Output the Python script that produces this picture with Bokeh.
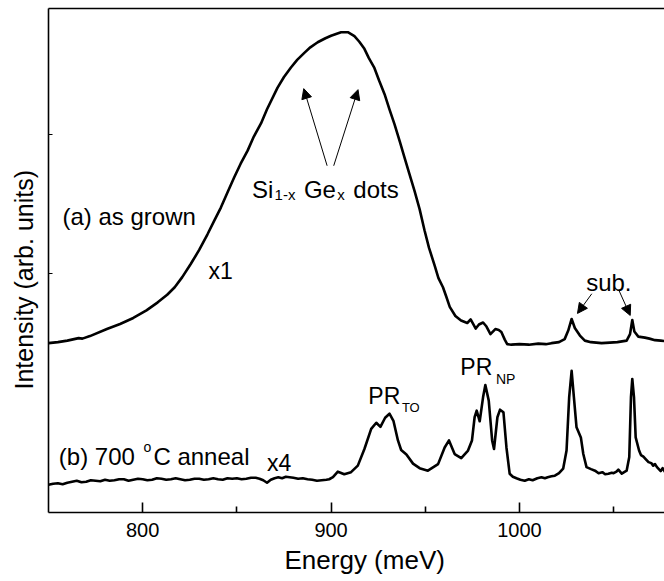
from bokeh.plotting import figure
from bokeh.models import Range1d, FixedTicker, LinearAxis, Arrow, NormalHead, Title
from bokeh.core.properties import value
from bokeh.embed import file_html
from bokeh.resources import INLINE

# PL spectrum (a): as-grown sample, x1
energy_a = [750, 755, 760, 766, 768, 772, 781, 788, 795, 802, 808, 813, 817, 821,
            825.5, 830, 834.4, 838, 841.5, 845, 848.6, 852, 855.7, 859, 862.8, 866,
            871.6, 875, 878.7, 882, 885.8, 889, 892.9, 897, 900, 903, 905.3, 908.9,
            912.4, 915, 917.7, 920, 923, 925.5, 928.4, 931, 933.7, 936.5, 939, 941.5,
            944.3, 947, 949.6, 952, 955, 957, 959.4, 961, 963, 966, 969, 972.3, 974.1,
            976.8, 978.5, 980.7, 982.5, 984.6, 987.2, 989, 990.4, 992.2, 993.5, 995.7,
            1000, 1005, 1010, 1014, 1017, 1021, 1024, 1025.9, 1027.7, 1029.4, 1032.1,
            1034.7, 1038, 1043.6, 1048, 1052, 1056.9, 1058.7, 1059.9, 1061, 1063.1,
            1066.6, 1069, 1072, 1075, 1077.3]
intensity_a = [33.6, 33.8, 34.1, 34.6, 34.5, 35.0, 36.4, 37.4, 38.6, 40.1, 41.7, 43.2,
               44.7, 46.7, 49.3, 52.1, 55.2, 57.9, 60.5, 63.5, 66.5, 69.2, 71.8, 74.6,
               77.2, 80.0, 84.3, 86.4, 88.3, 89.8, 91.2, 92.3, 93.3, 94.1, 94.6, 95.0,
               95.3, 95.3, 94.5, 93.4, 92.0, 90.2, 88.2, 85.7, 83.0, 80.0, 77.0, 73.6,
               70.4, 67.3, 63.8, 60.2, 56.0, 52.5, 49.0, 46.5, 44.7, 43.0, 40.8, 39.0,
               38.1, 37.6, 38.3, 36.5, 37.3, 37.7, 36.9, 35.4, 36.4, 36.2, 35.8, 34.3,
               33.4, 33.3, 33.4, 33.3, 33.5, 33.4, 33.6, 33.8, 34.4, 36.1, 38.4, 36.6,
               35.1, 34.1, 33.8, 33.6, 33.7, 33.8, 34.1, 35.4, 38.2, 35.9, 34.9, 34.7,
               34.5, 34.2, 34.1, 34.0]

# PL spectrum (b): after 700 C anneal, x4
energy_b = [750, 752.5, 755, 757.5, 760, 762.5, 765, 767.5, 770, 772.5, 775, 777.5,
            780, 782.5, 785, 787.5, 790, 792.5, 795, 797.5, 800, 802.5, 805, 807.5,
            810, 812.5, 815, 817.5, 820, 822.5, 825, 827.5, 830, 832.5, 835, 837.5,
            840, 842.5, 845, 847.5, 850, 852.5, 855, 857.5, 860, 862, 864, 866, 868,
            870, 872, 874, 876, 878, 880, 882.5, 885, 887.5, 890, 892.5, 895, 897.5,
            899, 901, 903.6, 905, 907, 910.6, 914.2, 917.7, 921.3, 924, 926.2, 928.7,
            931, 933.1, 935.5, 937.2, 940, 943.5, 947, 951.4, 956.8, 960.3, 962.6,
            965.6, 969.1, 972.7, 974.8, 976.2, 977.3, 978.9, 980.7, 981.9, 983.7,
            985.5, 986.5, 988.3, 989.7, 991.5, 993.1, 994.8, 996.5, 998.4, 1000.5,
            1002.8, 1005, 1007, 1009.5, 1011.7, 1013.5, 1015, 1017, 1018.8, 1021,
            1023.2, 1025, 1026.4, 1027.7, 1028.9, 1030.3, 1032.6, 1033.9, 1035.6,
            1038, 1040.1, 1042, 1044, 1045.5, 1047.2, 1049, 1050, 1051.5, 1052.5,
            1054.3, 1056.9, 1058.3, 1059.2, 1059.9, 1060.8, 1061.7, 1063.5, 1064.5,
            1065.8, 1067, 1068.5, 1070, 1071, 1072, 1073, 1074, 1075, 1076, 1077.3]
intensity_b = [5.5, 5.7, 5.8, 5.6, 5.9, 6.1, 6.3, 6.0, 6.1, 6.4, 6.3, 6.2, 6.5, 6.3,
               6.4, 6.6, 6.6, 6.3, 6.5, 6.7, 6.6, 6.4, 6.5, 6.8, 6.7, 6.5, 6.6, 6.8,
               6.6, 6.4, 6.5, 6.7, 6.7, 6.5, 6.6, 6.8, 6.6, 6.5, 6.8, 6.7, 6.8, 6.6,
               6.7, 6.9, 6.9, 6.7, 6.4, 5.9, 6.5, 6.8, 7.0, 6.8, 7.1, 7.0, 6.9, 6.7,
               6.8, 6.6, 6.5, 6.3, 6.4, 6.5, 6.6, 7.0, 8.1, 7.9, 7.6, 8.0, 9.3, 12.6,
               16.6, 17.8, 17.0, 18.8, 19.6, 18.2, 14.3, 12.4, 11.5, 9.7, 8.8, 8.3,
               9.6, 12.9, 14.3, 11.6, 10.8, 12.3, 14.3, 18.9, 20.2, 18.1, 22.9, 25.3,
               22.2, 14.3, 12.6, 18.9, 20.4, 19.9, 12.9, 7.7, 7.1, 6.8, 6.5, 6.3, 6.6,
               6.4, 6.8, 7.0, 6.8, 7.0, 7.2, 7.3, 7.8, 8.7, 12.3, 22.9, 28.1, 22.9,
               16.9, 14.9, 11.6, 9.0, 8.6, 8.3, 7.8, 8.0, 7.6, 7.7, 7.9, 7.8, 8.1,
               8.5, 7.7, 8.3, 11.0, 22.9, 26.5, 22.9, 14.9, 12.3, 11.4, 11.1, 10.6,
               10.0, 9.8, 9.3, 9.6, 9.0, 8.6, 8.2, 8.8, 8.0, 7.7]

x_ticks = [800, 900, 1000]
x_minor_ticks = [850, 950, 1050]
y_ticks = [47.4, 75.0]

FONT = value("Liberation Sans")

p = figure(width=664, height=581,
           x_range=Range1d(750, 1077), y_range=Range1d(0, 100),
           output_backend="svg", toolbar_location=None,
           min_border_left=48, min_border_right=0,
           min_border_top=8, min_border_bottom=69)
p.grid.visible = False
p.outline_line_color = None
p.background_fill_color = "white"
p.border_fill_color = "white"

# bottom axis
xa = p.xaxis[0]
xa.ticker = FixedTicker(ticks=x_ticks, minor_ticks=x_minor_ticks)
xa.major_label_text_font = "Liberation Sans"
xa.major_label_text_font_size = "20px"
xa.major_label_text_color = "black"
xa.major_label_standoff = 10
xa.major_tick_in = 10
xa.major_tick_out = 0
xa.minor_tick_in = 6
xa.minor_tick_out = 0
xa.axis_line_width = 1.6
xa.major_tick_line_width = 1.6
xa.minor_tick_line_width = 1.6

# left axis: ticks only, no numbers
ya = p.yaxis[0]
ya.ticker = FixedTicker(ticks=y_ticks, minor_ticks=[])
ya.major_label_overrides = {t: "" for t in y_ticks}
ya.major_label_standoff = 0
ya.major_tick_in = 4
ya.major_tick_out = 0
ya.minor_tick_in = 0
ya.minor_tick_out = 0
ya.axis_line_width = 1.6
ya.major_tick_line_width = 1.2

# top frame line
top = LinearAxis(ticker=FixedTicker(ticks=[]), major_tick_in=0, major_tick_out=0,
                 minor_tick_in=0, minor_tick_out=0, major_label_standoff=0,
                 axis_line_width=1.6)
p.add_layout(top, "above")

# axis titles
p.add_layout(Title(text="Intensity (arb. units)", align="left", offset=123,
                   vertical_align="top", standoff=18,
                   text_font="Liberation Sans", text_font_size="25px",
                   text_font_style="normal", text_color="black"), "left")
p.add_layout(Title(text="Energy (meV)", align="left", offset=236,
                   standoff=6, text_font="Liberation Sans", text_font_size="26px",
                   text_font_style="normal", text_color="black"), "below")

# spectra
p.line(energy_a, intensity_a, line_width=2.6, color="black", line_join="round")
p.line(energy_b, intensity_b, line_width=2.6, color="black", line_join="round")

def label(x, y, txt, size):
    p.text(x=[x], y=[y], text=[txt], text_font=FONT, text_font_size=size,
           text_baseline="alphabetic", text_align="left", text_color="black")

# annotations
label(757.4, 58.8, "(a) as grown", "24px")
label(834.9, 47.9, "x1", "23px")

label(858.0, 64.0, "Si", "24px")
label(870.0, 63.0, "1-x", "15px")
label(885.6, 64.0, "Ge", "24px")
label(903.3, 63.0, "x", "15px")
label(911.8, 64.0, "dots", "24px")

label(1035.4, 45.7, "sub.", "24px")

label(919.8, 23.2, "PR", "23px")
label(937.6, 20.9, "TO", "13px")
label(968.6, 28.9, "PR", "23px")
label(987.5, 26.5, "NP", "14px")

label(755.5, 11.1, "(b) 700", "24px")
label(800.4, 13.0, "o", "14px")
label(805.7, 11.1, "C anneal", "24px")
label(866.0, 9.8, "x4", "23px")

# arrows
for xs, ys, xe, ye in [(897.9, 68.8, 885.5, 84.1), (901.4, 68.8, 914.3, 83.9),
                       (1038.4, 43.4, 1030.8, 39.5), (1052.9, 44.0, 1058.8, 39.1)]:
    p.add_layout(Arrow(end=NormalHead(size=10, fill_color="black", line_color="black",
                                      line_width=1),
                       x_start=xs, y_start=ys, x_end=xe, y_end=ye,
                       line_width=1, line_color="black"))

open("out.html", "w").write(file_html(p, INLINE))
